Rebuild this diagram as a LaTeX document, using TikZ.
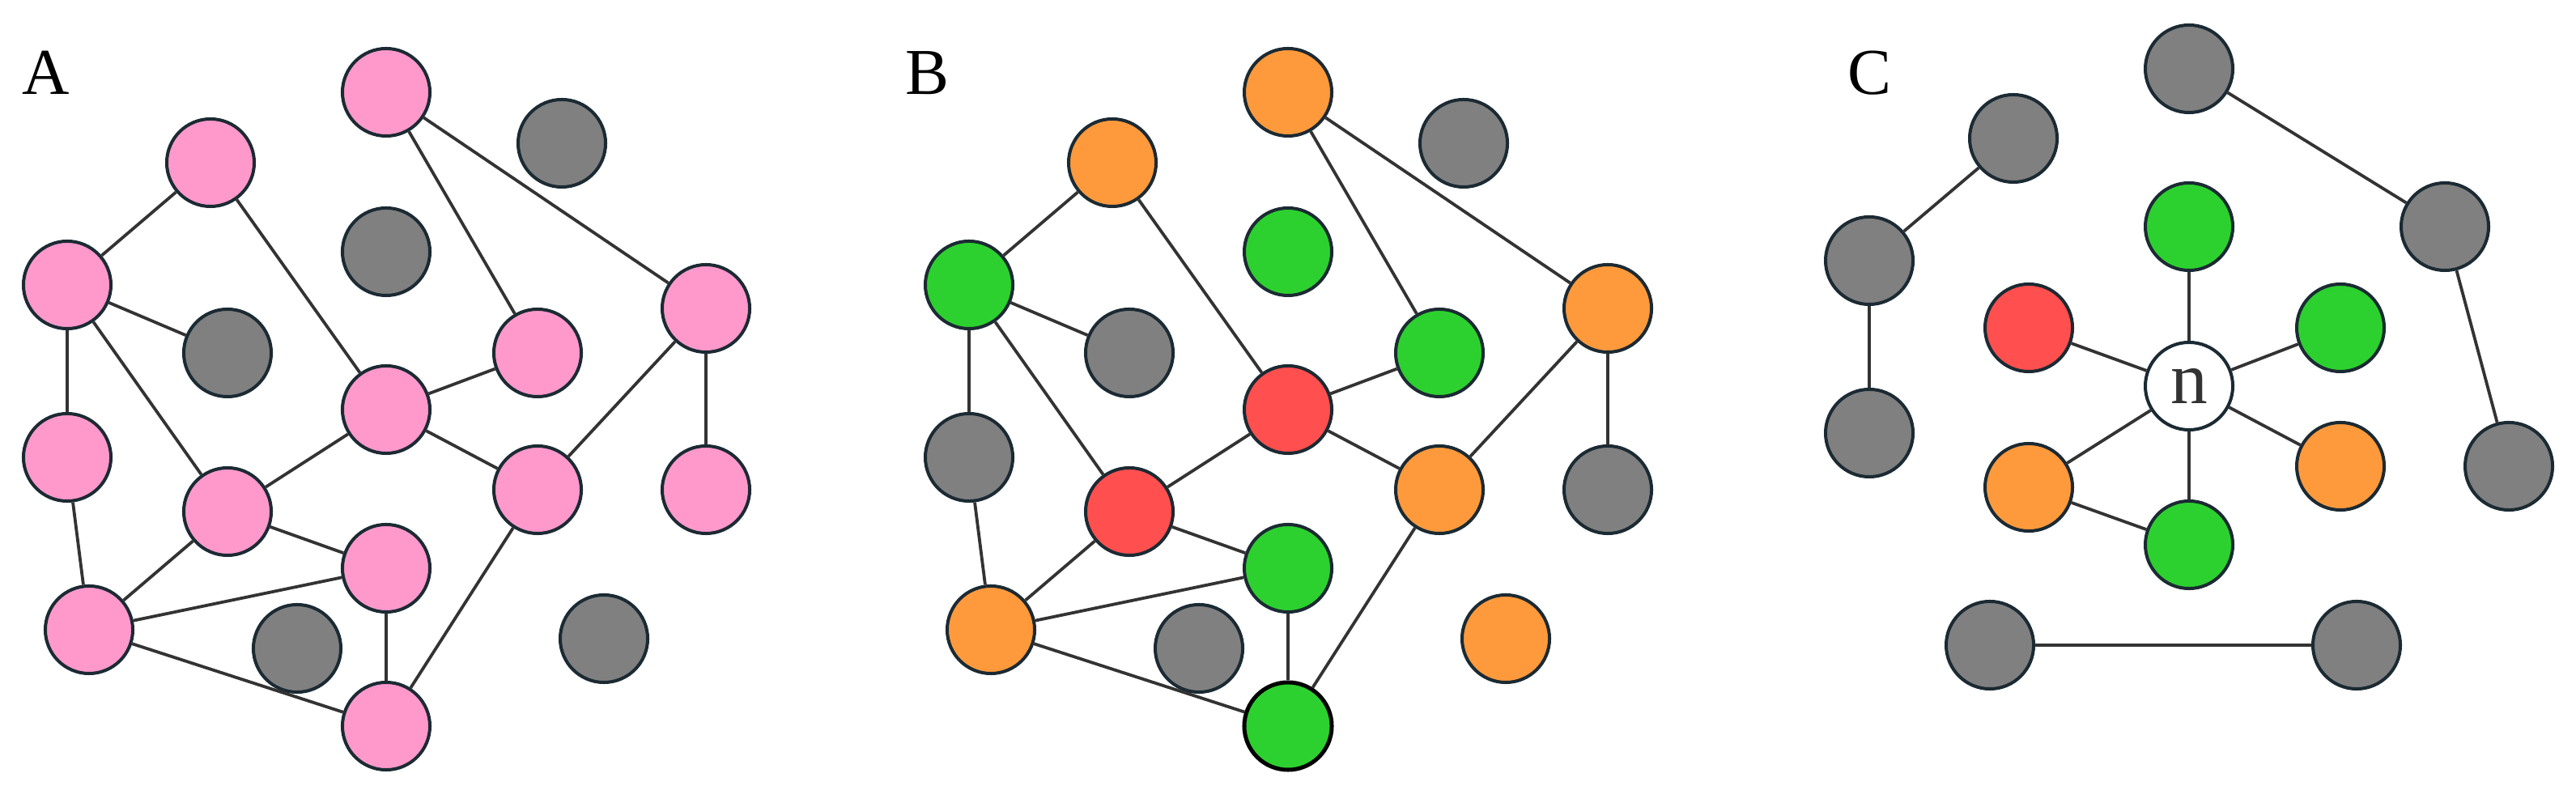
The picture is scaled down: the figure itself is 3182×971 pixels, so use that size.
\documentclass[tikz,border=0pt]{standalone}
\usepackage{fontspec}
\setmainfont{Liberation Serif}
\definecolor{pinkc}{HTML}{FF99CC}
\definecolor{grayc}{HTML}{808080}
\definecolor{greenc}{HTML}{2DD12F}
\definecolor{redc}{HTML}{FF4F4F}
\definecolor{orangec}{HTML}{FF9A3C}
\definecolor{nodeline}{HTML}{1B2A33}
\definecolor{edgec}{HTML}{333333}
\begin{document}
\begin{tikzpicture}[x=0.01cm,y=-0.01cm,
  vtx/.style={circle,draw=nodeline,line width=0.04cm,minimum size=1.08cm,inner sep=0pt},
  pk/.style={vtx,fill=pinkc},
  gr/.style={vtx,fill=grayc},
  gn/.style={vtx,fill=greenc},
  rd/.style={vtx,fill=redc},
  og/.style={vtx,fill=orangec},
  wt/.style={vtx,fill=white,text=edgec,font=\fontsize{26}{26}\selectfont},
  conn/.style={draw=edgec,line width=0.038cm},
  lbl/.style={font=\fontsize{23}{23}\selectfont,anchor=base,inner sep=0pt}]
\useasboundingbox (0,0) rectangle (3182,971);
% ---------- Panel A ----------
\node[lbl] (labA) at (57,117) {A};
\node[pk] (a1) at (477,114) {};
\node[gr] (a2) at (694,177) {};
\node[pk] (a3) at (260,201) {};
\node[gr] (a4) at (477,311) {};
\node[pk] (a5) at (83,352) {};
\node[gr] (a6) at (281,436) {};
\node[pk] (a7) at (664,436) {};
\node[pk] (a8) at (872,381) {};
\node[pk] (a9) at (477,506) {};
\node[pk] (a10) at (83,565) {};
\node[pk] (a11) at (281,632) {};
\node[pk] (a12) at (664,605) {};
\node[pk] (a13) at (872,605) {};
\node[pk] (a14) at (477,702) {};
\node[pk] (a15) at (110,778) {};
\node[gr] (a16) at (367,801) {};
\node[gr] (a17) at (746,789) {};
\node[pk] (a18) at (477,897) {};
% ---------- Panel B ----------
\node[lbl] (labB) at (1145,117) {B};
\node[og] (b1) at (1591,114) {};
\node[gr] (b2) at (1808,177) {};
\node[og] (b3) at (1374,201) {};
\node[gn] (b4) at (1591,311) {};
\node[gn] (b5) at (1197,352) {};
\node[gr] (b6) at (1395,436) {};
\node[gn] (b7) at (1778,436) {};
\node[og] (b8) at (1986,381) {};
\node[rd] (b9) at (1591,506) {};
\node[gr] (b10) at (1197,565) {};
\node[rd] (b11) at (1395,632) {};
\node[og] (b12) at (1778,605) {};
\node[gr] (b13) at (1986,605) {};
\node[gn] (b14) at (1591,702) {};
\node[og] (b15) at (1224,778) {};
\node[gr] (b16) at (1481,801) {};
\node[og] (b17) at (1860,789) {};
\node[gn,draw=black,line width=0.05cm] (b18) at (1591,897) {};
% edges of A and B
\foreach \p in {a,b}{
  \foreach \u/\v in {1/7,1/8,3/5,3/9,5/6,5/10,5/11,7/9,9/11,9/12,8/12,8/13,10/15,11/15,11/14,15/14,15/18,14/18,12/18}{
    \draw[conn] (\p\u) -- (\p\v);
  }
}
% ---------- Panel C ----------
\node[lbl] (labC) at (2309,117) {C};
\node[gr] (c1) at (2704,85) {};
\node[gr] (c2) at (2487,171) {};
\node[gr] (c3) at (2309,322) {};
\node[gr] (c4) at (3020,280) {};
\node[gn] (cg1) at (2704,280) {};
\node[rd] (cr) at (2506,405) {};
\node[gn] (cg2) at (2891,405) {};
\node[wt] (cn) at (2704,477) {n};
\node[gr] (c5) at (2309,535) {};
\node[og] (co1) at (2506,602) {};
\node[og] (co2) at (2891,576) {};
\node[gr] (c6) at (3099,576) {};
\node[gn] (cg3) at (2704,673) {};
\node[gr] (c7) at (2458,797) {};
\node[gr] (c8) at (2911,797) {};
\draw[conn] (c2) -- (c3);
\draw[conn] (c3) -- (c5);
\draw[conn] (c1) -- (c4);
\draw[conn] (c4) -- (c6);
\draw[conn] (cn) -- (cg1);
\draw[conn] (cn) -- (cr);
\draw[conn] (cn) -- (cg2);
\draw[conn] (cn) -- (co2);
\draw[conn] (cn) -- (cg3);
\draw[conn] (cn) -- (co1);
\draw[conn] (co1) -- (cg3);
\draw[conn] (c7) -- (c8);
\end{tikzpicture}
\end{document}
